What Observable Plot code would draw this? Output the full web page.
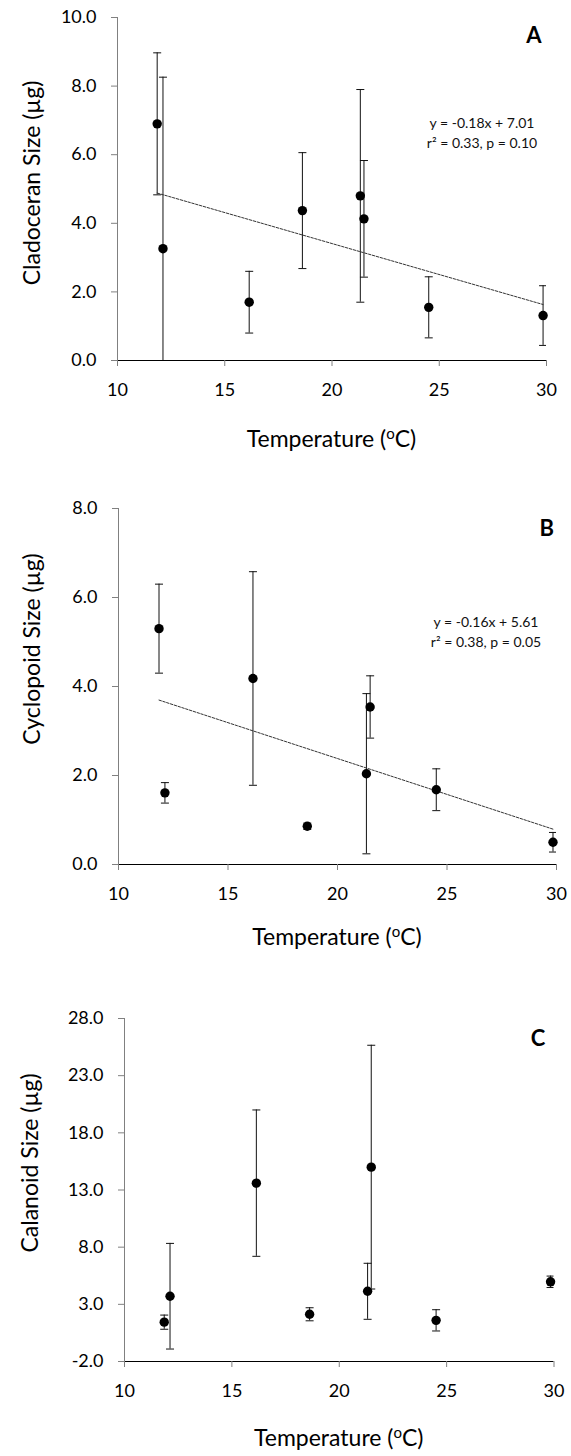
<!DOCTYPE html>
<html><head><meta charset="utf-8">
<script src="https://cdn.jsdelivr.net/npm/d3@7"></script>
<script src="https://cdn.jsdelivr.net/npm/@observablehq/plot@0.6"></script>
<style>body{margin:0;background:#fff;} #chart svg{display:block;}</style>
</head><body><div id="chart"></div>
<script>
// Data
const temps = [11.85, 12.12, 16.14, 18.62, 21.32, 21.49, 24.51, 29.84];
const cladoMean = [6.90, 3.26, 1.70, 4.37, 4.80, 4.13, 1.55, 1.31];
const cladoSD   = [2.07, 5.00, 0.90, 1.69, 3.10, 1.70, 0.89, 0.87];
const cycloMean = [5.30, 1.61, 4.18, 0.86, 2.04, 3.54, 1.68, 0.50];
const cycloSD   = [1.00, 0.23, 2.40, 0.07, 1.80, 0.70, 0.47, 0.22];
const calaMean  = [1.44, 3.71, 13.60, 2.13, 4.14, 15.00, 1.60, 4.97];
const calaSD    = [0.62, 4.62, 6.40, 0.57, 2.45, 10.66, 0.93, 0.50];
const xTicks = [10, 15, 20, 25, 30];
const cladoTicks = [0, 2, 4, 6, 8, 10];
const cycloTicks = [0, 2, 4, 6, 8];
const calaTicks = [-2, 3, 8, 13, 18, 23, 28];
const xTitle = ["Temperature (", "o", "C)"];
const yTitles = ["Cladoceran Size (µg)", "Cyclopoid Size (µg)", "Calanoid Size (µg)"];
const letters = ["A", "B", "C"];
const eqA = ["y = -0.18x + 7.01", "r² = 0.33, p = 0.10"];
const eqB = ["y = -0.16x + 5.61", "r² = 0.38, p = 0.05"];

const FONT = "Lato, 'Open Sans', sans-serif";
const capSymbol = {draw(ctx, size){const r = Math.sqrt(size/Math.PI); ctx.moveTo(-r,0); ctx.lineTo(r,0);}};

function panel({mean, sd, yTicks, yLabel, letter, eq, L}) {
  const data = temps.map((t,i)=>({t, m: mean[i], lo: mean[i]-sd[i], hi: mean[i]+sd[i]}));
  const marks = [
    Plot.ruleX(data, {x:"t", y1:"lo", y2:"hi", stroke:"#111", strokeWidth:1, clip:true}),
    Plot.dot(data, {x:"t", y:"hi", symbol:capSymbol, r:4, fill:"none", stroke:"#111", strokeWidth:1, clip:true}),
    Plot.dot(data, {x:"t", y:"lo", symbol:capSymbol, r:4, fill:"none", stroke:"#111", strokeWidth:1, clip:true})
  ];
  if (eq) marks.push(Plot.linearRegressionY(data, {x:"t", y:"m", ci:0, stroke:"#333", strokeWidth:1, strokeDasharray:"2.5,1.5"}));
  marks.push(
    Plot.dot(data, {x:"t", y:"m", r:4.7, fill:"#000", stroke:"none"}),
    Plot.ruleX([xTicks[0]], {stroke:"#808080"}),
    Plot.ruleY([yTicks[0]], {stroke:"#000"}),
    Plot.axisY({ticks:yTicks, tickFormat:d=>d.toFixed(1), tickSize:6, tickPadding:15, stroke:"#808080", fill:"#000", fontSize:18, label:null}),
    Plot.axisX({ticks:xTicks, tickFormat:d=>String(d), tickSize:6, tickPadding:17, stroke:"#808080", fill:"#000", fontSize:18, label:null})
  );
  const svg = Plot.plot({
    width:571, height:L.height,
    marginTop:L.mt, marginBottom:L.mb, marginLeft:L.ml, marginRight:L.mr,
    x:{domain:[xTicks[0], xTicks[xTicks.length-1]]},
    y:{domain:[yTicks[0], yTicks[yTicks.length-1]]},
    style:{fontFamily:FONT, fontSize:"18px", background:"#fff", color:"#000"},
    marks
  });
  const s = d3.select(svg);
  s.append("text").attr("transform", `translate(${L.yx},${L.yy}) rotate(-90)`)
    .attr("text-anchor","middle").attr("dominant-baseline","central")
    .style("font-size","23px").style("font-family",FONT).attr("fill","#000").text(yLabel);
  const cx = (L.ml + (571 - L.mr))/2;
  const t = s.append("text").attr("x", cx).attr("y", L.xty).attr("text-anchor","middle")
    .style("font-size","23px").style("font-family",FONT).attr("fill","#000");
  t.append("tspan").text(xTitle[0]);
  t.append("tspan").attr("dy",-8).style("font-size","15px").text(xTitle[1]);
  t.append("tspan").attr("dy",8).text(xTitle[2]);
  s.append("text").attr("x", L.lx).attr("y", L.ly).attr("text-anchor","middle")
    .style("font-size","22px").style("font-weight","bold").style("font-family",FONT).attr("fill","#000").text(letter);
  if (eq) {
    eq.forEach((line, i) => {
      s.append("text").attr("x", L.ex).attr("y", L.ey + i*19.5).attr("text-anchor","middle")
        .style("font-size","14px").style("font-family",FONT).attr("fill","#111").text(line);
    });
  }
  return svg;
}

const chart = document.getElementById("chart");
chart.appendChild(panel({mean:cladoMean, sd:cladoSD, yTicks:cladoTicks, yLabel:yTitles[0], letter:letters[0], eq:eqA,
  L:{height:460, mt:17, mb:100, ml:117, mr:25, yx:31, yy:183, xty:447, lx:534, ly:43, ex:482, ey:128}}));
chart.appendChild(panel({mean:cycloMean, sd:cycloSD, yTicks:cycloTicks, yLabel:yTitles[1], letter:letters[1], eq:eqB,
  L:{height:500, mt:48, mb:96, ml:118, mr:15, yx:31, yy:189, xty:485, lx:546.7, ly:76, ex:486, ey:167}}));
chart.appendChild(panel({mean:calaMean, sd:calaSD, yTicks:calaTicks, yLabel:yTitles[2], letter:letters[2], eq:null,
  L:{height:496, mt:58, mb:95, ml:124, mr:17.5, yx:29, yy:203, xty:486, lx:538, ly:86}}));
</script>
</body></html>
